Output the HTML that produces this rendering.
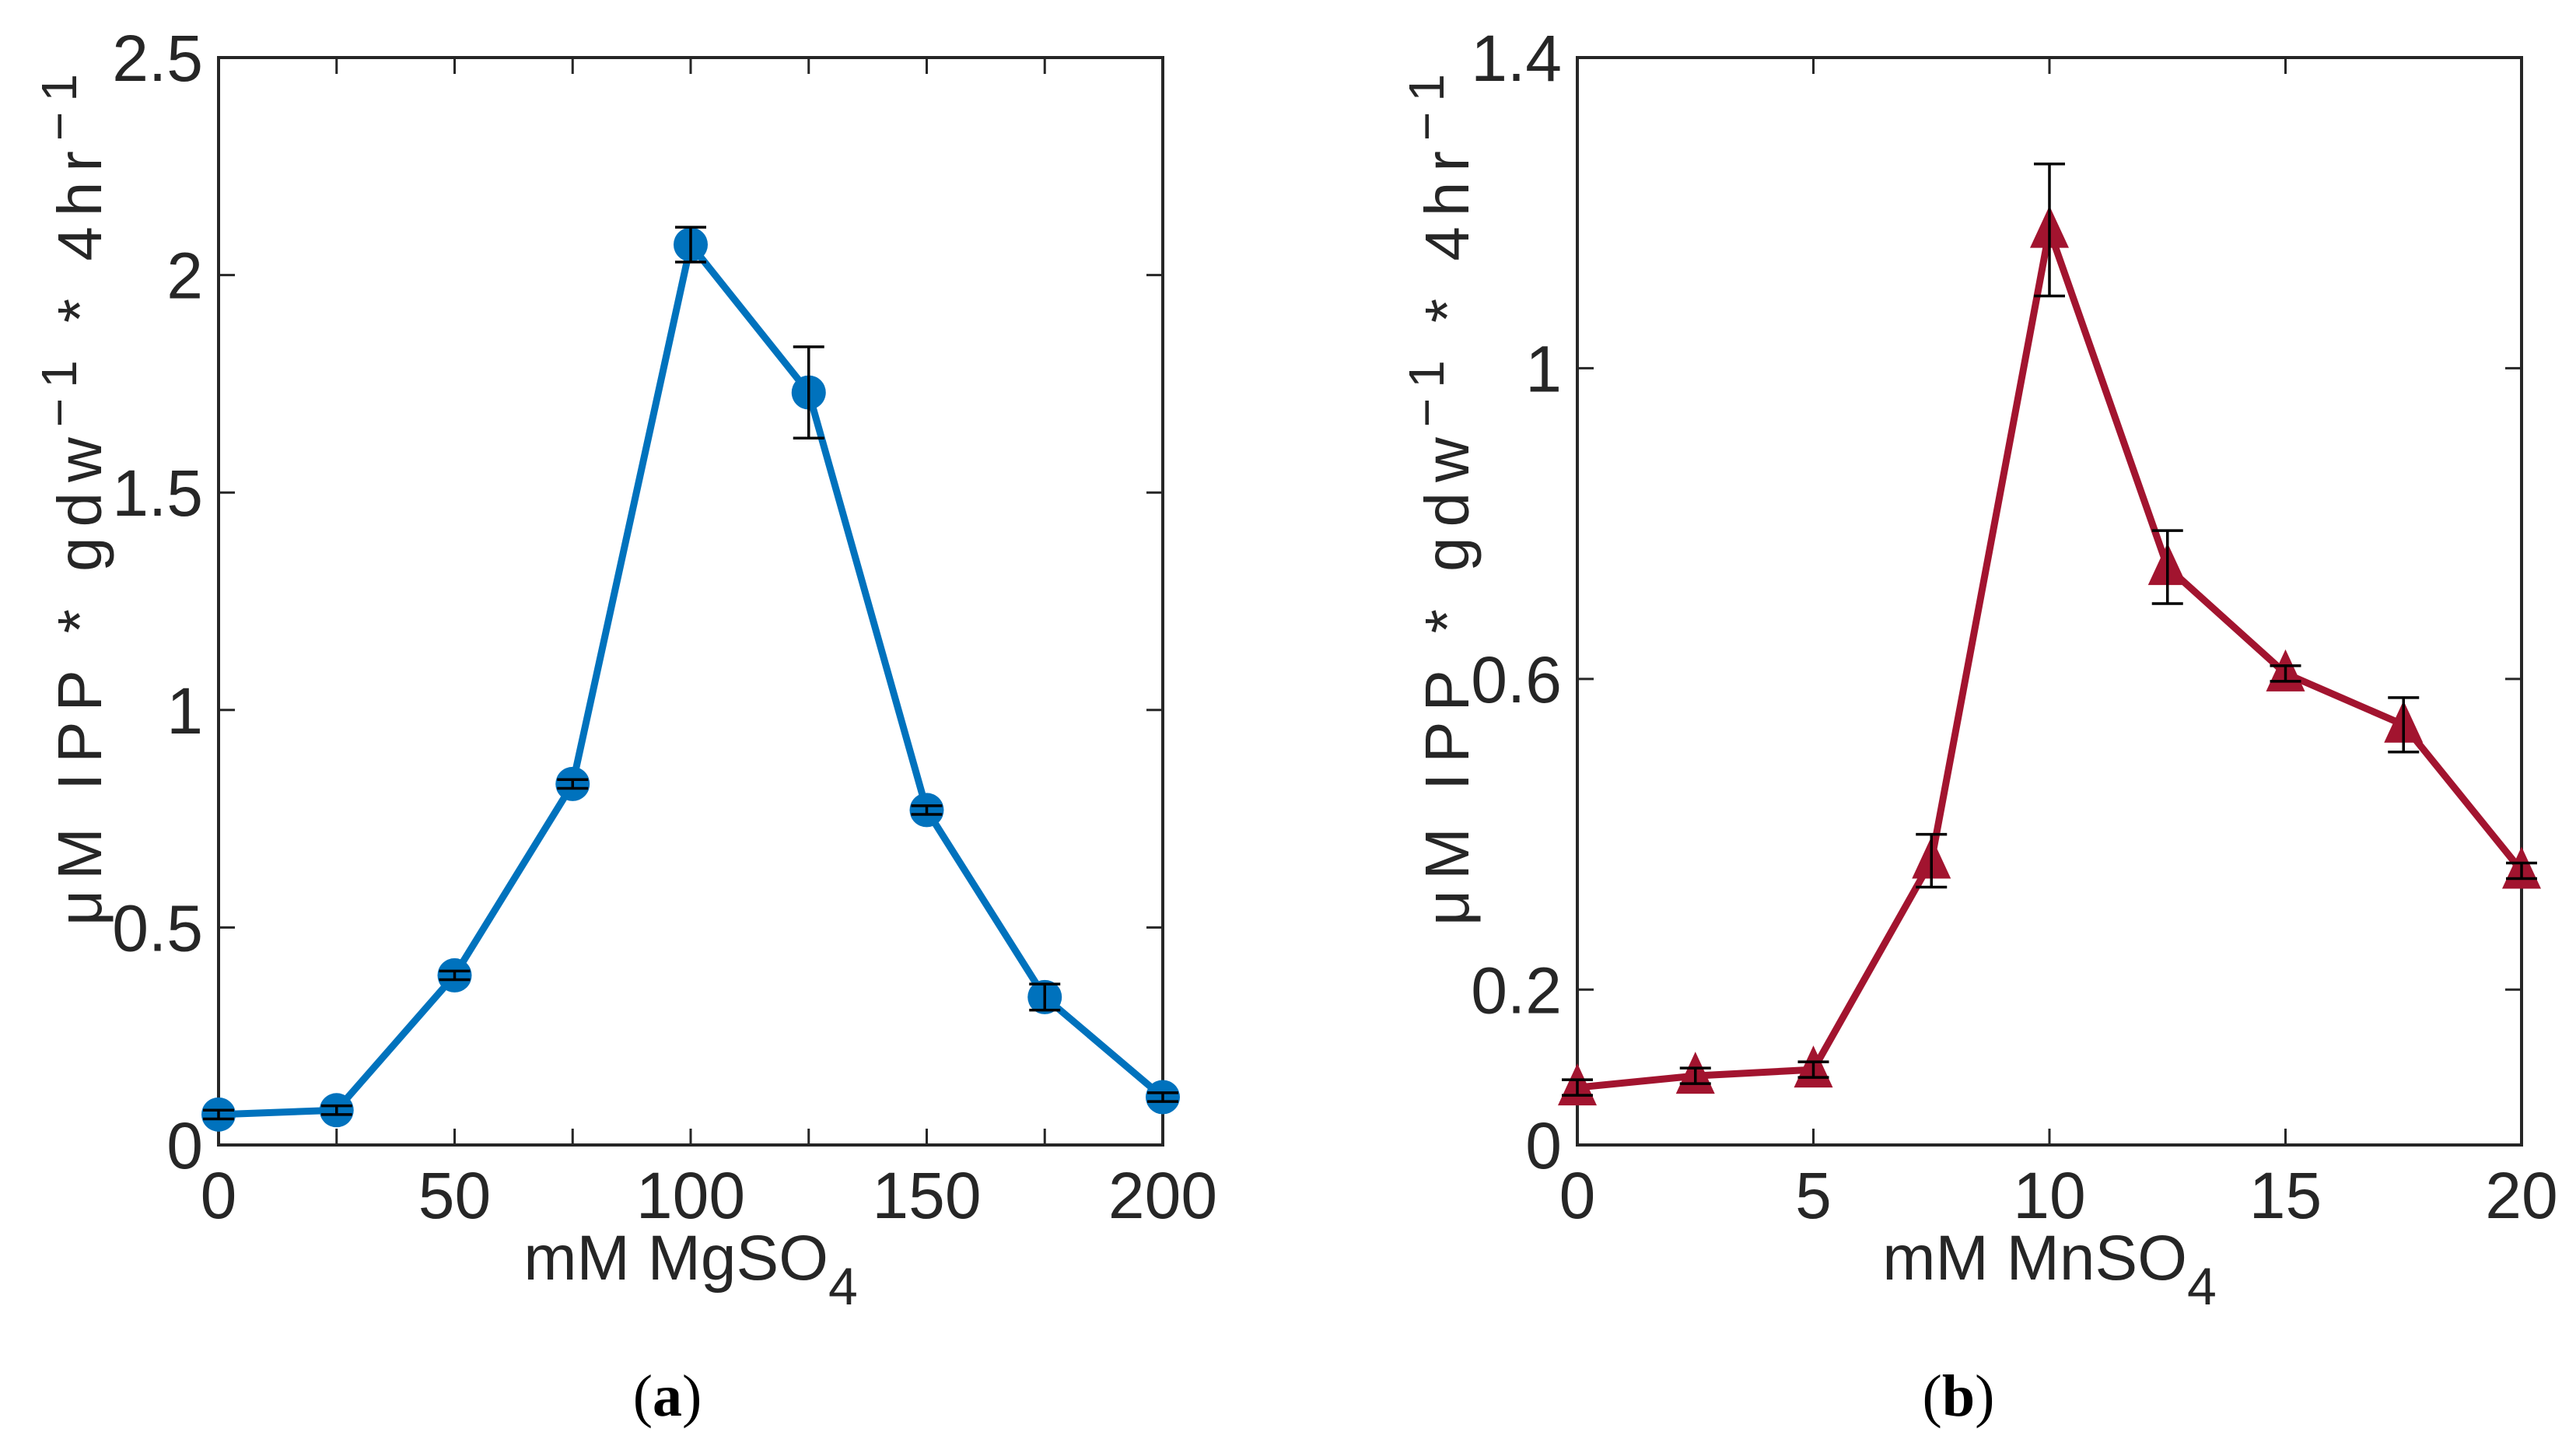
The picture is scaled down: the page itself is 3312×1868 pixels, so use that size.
<!DOCTYPE html>
<html><head><meta charset="utf-8"><style>
html,body{margin:0;padding:0;background:#fff;}
svg{display:block;}
text{font-family:"Liberation Sans",Arial,sans-serif;fill:#262626;}
</style></head><body>
<svg id="fig" width="3312" height="1868" viewBox="0 0 3312 1868" xmlns="http://www.w3.org/2000/svg"></svg>
<script>
// Panel (a) data
const magCategories = [0, 25, 50, 75, 100, 125, 150, 175, 200];
const magValues = [0.07, 0.08, 0.39, 0.83, 2.07, 1.73, 0.77, 0.34, 0.11];
const magErrors = [0.01, 0.01, 0.01, 0.01, 0.04, 0.105, 0.01, 0.03, 0.01];
const magXTicks = [0, 50, 100, 150, 200];
const magXTickLabels = ["0", "50", "100", "150", "200"];
const magYTicks = [0, 0.5, 1, 1.5, 2, 2.5];
const magYTickLabels = ["0", "0.5", "1", "1.5", "2", "2.5"];
const magXMinorTicks = [0, 25, 50, 75, 100, 125, 150, 175, 200];
// Panel (b) data
const manCategories = [0, 2.5, 5, 7.5, 10, 12.5, 15, 17.5, 20];
const manValues = [0.074, 0.089, 0.097, 0.366, 1.178, 0.744, 0.607, 0.541, 0.353];
const manErrors = [0.01, 0.01, 0.01, 0.034, 0.085, 0.047, 0.01, 0.035, 0.01];
const manXTicks = [0, 5, 10, 15, 20];
const manXTickLabels = ["0", "5", "10", "15", "20"];
const manYTicks = [0, 0.2, 0.6, 1, 1.4];
const manYTickLabels = ["0", "0.2", "0.6", "1", "1.4"];

const NS = "http://www.w3.org/2000/svg";
const svg = document.getElementById("fig");
function mk(tag, attrs, parent) {
  const e = document.createElementNS(NS, tag);
  for (const k in attrs) e.setAttribute(k, attrs[k]);
  (parent || svg).appendChild(e);
  return e;
}

function panel(opt) {
  const g = mk("g", {});
  
  
  const L = opt.left, R = opt.right, T = 74, B = 1472;
  const sx = v => L + (v - opt.xmin) / (opt.xmax - opt.xmin) * (R - L);
  const sy = v => B - (v - opt.ymin) / (opt.ymax - opt.ymin) * (B - T);
  opt.xticks.forEach((t, i) => {
    const x = sx(t);
    const tk = mk("path", {d: `M${x},${B}v-21M${x},${T}v21`, stroke: "#262626", "stroke-width": 3, fill: "none"}, g);
    
    
    const lb = mk("text", {x: x, y: 1566, "text-anchor": "middle", "font-size": 84}, g);
    lb.textContent = opt.xlabels[i];
    
    
  });
  opt.yticks.forEach((t, i) => {
    const y = sy(t);
    const tk = mk("path", {d: `M${L},${y}h21M${R},${y}h-21`, stroke: "#262626", "stroke-width": 3, fill: "none"}, g);
    
    
    const lb = mk("text", {x: L - 20, y: y + 30, "text-anchor": "end", "font-size": 84}, g);
    lb.textContent = opt.ylabels[i];
    
    
  });
  const box = mk("rect", {x: L, y: T, width: R - L, height: B - T, fill: "none", stroke: "#262626", "stroke-width": 4}, g);
  
  
  const pts = opt.cats.map((c, i) => sx(c) + "," + sy(opt.vals[i])).join(" ");
  const line = mk("polyline", {points: pts, fill: "none", stroke: opt.color, "stroke-width": 9, "stroke-linejoin": "round"}, g);
  
  
  opt.cats.forEach((c, i) => {
    const x = sx(c), y = sy(opt.vals[i]);
    let m;
    if (opt.marker === "circle") {
      m = mk("circle", {cx: x, cy: y, r: 22, fill: opt.color}, g);
    } else {
      m = mk("polygon", {points: `${x},${y - 31} ${x - 25},${y + 23} ${x + 25},${y + 23}`, fill: opt.color}, g);
    }
    
    
    const y1 = sy(opt.vals[i] + opt.errs[i]), y2 = sy(opt.vals[i] - opt.errs[i]);
    const eb = mk("path", {d: `M${x},${y1}V${y2}M${x - 20},${y1}h40M${x - 20},${y2}h40`, stroke: "#000", "stroke-width": 3.5, fill: "none"}, g);
    
    
  });
  const xl = mk("text", {x: (L + R) / 2, y: 1645, "text-anchor": "middle", "font-size": 82}, g);
  xl.innerHTML = opt.xtitle + '<tspan dy="32" font-size="68">4</tspan>';
  
  
  const yl = mk("text", {x: 0, y: 0, "text-anchor": "middle", "font-size": 80, "letter-spacing": 13,
    transform: `translate(${opt.ylabX},636) rotate(-90)`}, g);
  yl.innerHTML = 'μM IPP * gdw<tspan dy="-32" font-size="64">−1</tspan><tspan dy="32"> * 4hr</tspan><tspan dy="-32" font-size="64">−1</tspan>';
  
  
  const pl = mk("text", {x: opt.tagX, y: 1820, "text-anchor": "middle", "font-size": 76, style: 'font-family:"Liberation Serif",serif;fill:#000'}, g);
  pl.innerHTML = '(<tspan font-weight="bold">' + opt.tag + '</tspan>)';
  
  
}

panel({name: "panel-a-mgso4", left: 281, right: 1495, xmin: 0, xmax: 200, ymin: 0, ymax: 2.5,
  cats: magCategories, vals: magValues, errs: magErrors, xticks: magXMinorTicks,
  xlabels: magXMinorTicks.map(t => magXTickLabels[magXTicks.indexOf(t)] || ""),
  yticks: magYTicks, ylabels: magYTickLabels, color: "#0072BD", marker: "circle",
  xtitle: "mM MgSO", ylabX: 130, tag: "a", tagX: 858});
panel({name: "panel-b-mnso4", left: 2028, right: 3242, xmin: 0, xmax: 20, ymin: 0, ymax: 1.4,
  cats: manCategories, vals: manValues, errs: manErrors, xticks: manXTicks, xlabels: manXTickLabels,
  yticks: manYTicks, ylabels: manYTickLabels, color: "#A2142F", marker: "triangle",
  xtitle: "mM MnSO", ylabX: 1888, tag: "b", tagX: 2518});
</script>
</body></html>
